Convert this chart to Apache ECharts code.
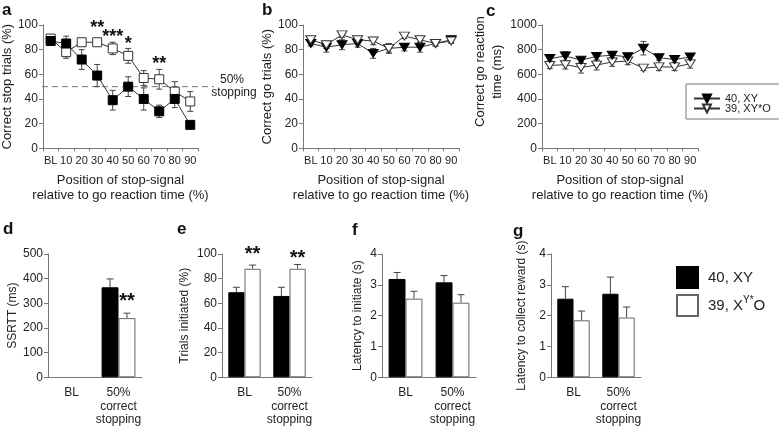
<!DOCTYPE html>
<html><head><meta charset="utf-8">
<script src="https://cdn.jsdelivr.net/npm/echarts@6/dist/echarts.min.js"></script>
<style>html,body{margin:0;padding:0;background:#fff}#c{width:779px;height:429px}</style>
</head><body><div id="c"></div>
<script>
// ---------- data ----------
const positions = ['BL','10','20','30','40','50','60','70','80','90'];
// panel a: correct stop trials (%)
const stopXY     = [87, 85, 72, 59, 39, 50, 40, 30, 40, 19];
const stopXYErr  = [3, 6, 8, 9, 8, 8, 9, 5, 7, 3];
const stopXYO    = [89, 78, 86, 86, 81, 75, 57, 56, 46, 38];
const stopXYOErr = [3, 5, 2, 2, 5, 6, 6, 8, 8, 8];
// panel b: correct go trials (%)
const goXY     = [85, 82, 84, 85, 77, 81, 82, 82, 85, 88];
const goXYErr  = [2, 4, 4, 3, 4, 3, 3, 4, 2, 2];
const goXYO    = [88, 84, 92, 88, 87, 81, 91, 88, 85, 87];
const goXYOErr = [2, 3, 2, 2, 3, 4, 2, 2, 2, 2];
// panel c: correct go reaction time (ms)
const rtXY     = [728, 748, 715, 745, 755, 742, 812, 735, 720, 740];
const rtXYErr  = [20, 35, 25, 30, 30, 15, 55, 20, 25, 25];
const rtXYO    = [672, 678, 655, 675, 700, 708, 650, 660, 660, 685];
const rtXYOErr = [25, 35, 45, 40, 35, 30, 20, 30, 30, 35];
// bar panels
const barCats = ['BL', '50%\ncorrect\nstopping'];
const ssrtXY = [null, 365], ssrtXYErr = [null, 34];
const ssrtXYO = [null, 240], ssrtXYOErr = [null, 20];
const initXY = [69, 66], initXYErr = [4, 7];
const initXYO = [88, 88], initXYOErr = [3, 3.5];
const latInitXY = [3.19, 3.08], latInitXYErr = [0.21, 0.22];
const latInitXYO = [2.55, 2.42], latInitXYOErr = [0.24, 0.26];
const latRewXY = [2.55, 2.71], latRewXYErr = [0.39, 0.54];
const latRewXYO = [1.85, 1.94], latRewXYOErr = [0.30, 0.34];
// significance marks: [category index, value, text]
const starsA = [[3, 97.5, '**'], [4, 90, '***'], [5, 84.5, '*'], [7, 68, '**']];
const starsD = [[1, 306, '**']];
const starsE = [[0, 99.4, '**'], [1, 96, '**']];

// ---------- helpers ----------
const FONT = 'Liberation Sans, Arial, Helvetica, sans-serif';
const AX = '#777', TXT = '#222', ERR = '#444';
function errData(vals, errs) {
  const out = [];
  vals.forEach((v, i) => { if (v != null) out.push([i, v, errs[i]]); });
  return out;
}
function errSeries(idx, vals, errs, side, upOnly, capW) {
  return {
    type: 'custom', xAxisIndex: idx, yAxisIndex: idx, silent: true,
    data: errData(vals, errs),
    renderItem: function (params, api) {
      const x = api.value(0), v = api.value(1), e = api.value(2);
      const band = api.size([1, 0])[0];
      const dx = side * band * 0.18;
      const top = api.coord([x, v + e]);
      const bot = api.coord([x, upOnly ? v : v - e]);
      const cx = top[0] + dx;
      const st = { stroke: ERR, lineWidth: 1, fill: null };
      const ch = [
        { type: 'line', shape: { x1: cx, y1: top[1], x2: cx, y2: bot[1] }, style: st },
        { type: 'line', shape: { x1: cx - capW / 2, y1: top[1], x2: cx + capW / 2, y2: top[1] }, style: st }
      ];
      if (!upOnly) ch.push({ type: 'line', shape: { x1: cx - capW / 2, y1: bot[1], x2: cx + capW / 2, y2: bot[1] }, style: st });
      return { type: 'group', children: ch };
    }
  };
}
function starSeries(idx, arr, side, size) {
  return {
    type: 'custom', xAxisIndex: idx, yAxisIndex: idx, silent: true, z: 5,
    data: arr.map(d => [d[0], d[1]]),
    renderItem: function (params, api) {
      const p = api.coord([api.value(0), api.value(1)]);
      const dx = side * api.size([1, 0])[0] * 0.18;
      return { type: 'text', x: p[0] + dx, y: p[1],
        style: { text: arr[params.dataIndex][2], font: 'bold ' + size + 'px ' + FONT, fill: '#111', align: 'center', verticalAlign: 'middle' } };
    }
  };
}
function lineSeries(idx, name, data, symbol, filled) {
  return {
    type: 'line', name: name, xAxisIndex: idx, yAxisIndex: idx, data: data,
    symbol: symbol, symbolSize: symbol === 'rect' ? 9 : [10, 8], symbolRotate: symbol === 'rect' ? 0 : 180,
    showAllSymbol: true,
    lineStyle: { color: '#333', width: 1 },
    itemStyle: filled ? { color: '#000', borderColor: '#000', borderWidth: 1 } : { color: '#fff', borderColor: '#333', borderWidth: 1 }
  };
}
function barSeries(idx, name, data, filled) {
  return {
    type: 'bar', name: name, xAxisIndex: idx, yAxisIndex: idx, data: data,
    barWidth: '36%', barGap: '0%',
    itemStyle: filled ? { color: '#000', borderColor: '#000', borderWidth: 1 } : { color: '#fff', borderColor: '#666', borderWidth: 1 }
  };
}
function topX(idx) {
  return {
    type: 'category', gridIndex: idx, data: positions, boundaryGap: true,
    axisLine: { lineStyle: { color: AX } },
    axisTick: { show: true, length: 3, lineStyle: { color: AX } },
    axisLabel: { fontSize: 11, color: TXT, margin: 7, interval: 0, fontFamily: FONT },
    name: 'Position of stop-signal\nrelative to go reaction time (%)',
    nameLocation: 'middle', nameGap: 25,
    nameTextStyle: { fontSize: 13, lineHeight: 15, color: TXT, fontFamily: FONT }
  };
}
function botX(idx) {
  return {
    type: 'category', gridIndex: idx, data: barCats, boundaryGap: true,
    axisLine: { lineStyle: { color: AX } },
    axisTick: { show: false },
    axisLabel: { fontSize: 12, lineHeight: 13.5, color: TXT, margin: 9, interval: 0, fontFamily: FONT }
  };
}
function yAx(idx, max, interval, name, gap, fs, extra) {
  return Object.assign({
    type: 'value', gridIndex: idx, min: 0, max: max, interval: interval,
    axisLine: { show: true, lineStyle: { color: AX } },
    axisTick: { show: true, length: 4, lineStyle: { color: AX } },
    splitLine: { show: false },
    axisLabel: { fontSize: 12, color: TXT, margin: 5, fontFamily: FONT, formatter: v => String(v) },
    name: name, nameLocation: 'middle', nameGap: gap,
    nameTextStyle: { fontSize: fs, color: TXT, fontFamily: FONT }
  }, extra || {});
}

const option = {
  animation: false,
  textStyle: { fontFamily: FONT },
  grid: [
    { left: 42, top: 25, width: 156, height: 123.3 },
    { left: 303, top: 25, width: 156, height: 123.3 },
    { left: 542, top: 25, width: 156, height: 123.3 },
    { left: 48, top: 254, width: 94, height: 123.3 },
    { left: 222, top: 254, width: 90, height: 123.3 },
    { left: 382, top: 254, width: 94, height: 123.3 },
    { left: 551, top: 254, width: 90, height: 123.3 }
  ],
  xAxis: [topX(0), topX(1), topX(2), botX(3), botX(4), botX(5), botX(6)],
  yAxis: [
    yAx(0, 100, 20, 'Correct stop trials (%)', 25, 13),
    yAx(1, 100, 20, 'Correct go trials (%)', 25, 13),
    yAx(2, 1000, 200, 'Correct go reaction\ntime (ms)', 27, 13, { nameTextStyle: { fontSize: 13, lineHeight: 17, color: TXT, fontFamily: FONT, padding: [0, 0, 0, 30] } }),
    yAx(3, 500, 100, 'SSRTT (ms)', 27, 12),
    yAx(4, 100, 20, 'Trials initiated (%)', 31, 12),
    yAx(5, 4, 1, 'Latency to initiate (s)', 18, 12),
    yAx(6, 4, 1, 'Latency to collect reward (s)', 23, 12)
  ],
  legend: [
    {
      data: ['40, XY', '39, XY*O'], orient: 'vertical', left: 686, top: 84,
      borderColor: '#777', borderWidth: 1, padding: [9, 10, 5, 7],
      itemWidth: 26, itemHeight: 10, itemGap: -1,
      textStyle: { fontSize: 11, lineHeight: 10, color: TXT, fontFamily: FONT },
      selectedMode: false
    },
    {
      data: ['bar XY', 'bar XYO'], orient: 'vertical', left: 676, top: 266, padding: 0,
      icon: 'rect', itemWidth: 21, itemHeight: 21, itemGap: 5, selectedMode: false,
      formatter: n => n === 'bar XY' ? '40, XY' : '39, X{sup|Y*}O',
      textStyle: { fontSize: 15, lineHeight: 20, color: TXT, fontFamily: FONT, padding: [0, 0, 0, 5],
        rich: { sup: { fontSize: 10, lineHeight: 10, verticalAlign: 'top', color: TXT, fontFamily: FONT } } }
    }
  ],
  series: [
    // panel a
    errSeries(0, stopXYO, stopXYOErr, 0, false, 6),
    errSeries(0, stopXY, stopXYErr, 0, false, 6),
    lineSeries(0, 'stop XYO', stopXYO, 'rect', false),
    lineSeries(0, 'stop XY', stopXY, 'rect', true),
    starSeries(0, starsA, 0, 18),
    // panel b
    errSeries(1, goXY, goXYErr, 0, false, 6),
    errSeries(1, goXYO, goXYOErr, 0, false, 6),
    lineSeries(1, 'go XY', goXY, 'triangle', true),
    lineSeries(1, 'go XYO', goXYO, 'triangle', false),
    // panel c
    errSeries(2, rtXYO, rtXYOErr, 0, false, 6),
    errSeries(2, rtXY, rtXYErr, 0, false, 6),
    lineSeries(2, '39, XY*O', rtXYO, 'triangle', false),
    lineSeries(2, '40, XY', rtXY, 'triangle', true),
    // panel d
    barSeries(3, 'bar XY', ssrtXY, true),
    barSeries(3, 'bar XYO', ssrtXYO, false),
    errSeries(3, ssrtXY, ssrtXYErr, -1, true, 7),
    errSeries(3, ssrtXYO, ssrtXYOErr, 1, true, 7),
    starSeries(3, starsD, 1, 20),
    // panel e
    barSeries(4, 'bar XY', initXY, true),
    barSeries(4, 'bar XYO', initXYO, false),
    errSeries(4, initXY, initXYErr, -1, true, 7),
    errSeries(4, initXYO, initXYOErr, 1, true, 7),
    starSeries(4, starsE, 1, 20),
    // panel f
    barSeries(5, 'bar XY', latInitXY, true),
    barSeries(5, 'bar XYO', latInitXYO, false),
    errSeries(5, latInitXY, latInitXYErr, -1, true, 7),
    errSeries(5, latInitXYO, latInitXYOErr, 1, true, 7),
    // panel g
    barSeries(6, 'bar XY', latRewXY, true),
    barSeries(6, 'bar XYO', latRewXYO, false),
    errSeries(6, latRewXY, latRewXYErr, -1, true, 7),
    errSeries(6, latRewXYO, latRewXYOErr, 1, true, 7)
  ]
};

const chart = echarts.init(document.getElementById('c'), null, { renderer: 'canvas' });
chart.setOption(option);

// annotations: panel letters, 50% stopping reference line
const y50 = chart.convertToPixel({ xAxisIndex: 0, yAxisIndex: 0 }, [0, 50])[1];
const xStart = chart.convertToPixel({ xAxisIndex: 0, yAxisIndex: 0 }, [0, 0])[0] - 8.7;
const letterFont = 'bold 17px ' + FONT;
function letter(t, x, y) {
  return { type: 'text', x: x, y: y, style: { text: t, font: letterFont, fill: '#111', verticalAlign: 'middle' } };
}
chart.setOption({
  graphic: [
    { type: 'line', shape: { x1: xStart, y1: y50, x2: 214, y2: y50 }, style: { stroke: '#777', lineWidth: 1, lineDash: [6, 4] }, z: 1 },
    { type: 'text', x: 232, y: y50 - 7, style: { text: '50%', font: '12px ' + FONT, fill: TXT, align: 'center', verticalAlign: 'middle' } },
    { type: 'text', x: 234, y: y50 + 6, style: { text: 'stopping', font: '12px ' + FONT, fill: TXT, align: 'center', verticalAlign: 'middle' } },
    letter('a', 2, 10), letter('b', 262, 10), letter('c', 486, 11),
    letter('d', 3, 229), letter('e', 177, 229), letter('f', 352, 230), letter('g', 513, 231)
  ]
});
</script></body></html>
